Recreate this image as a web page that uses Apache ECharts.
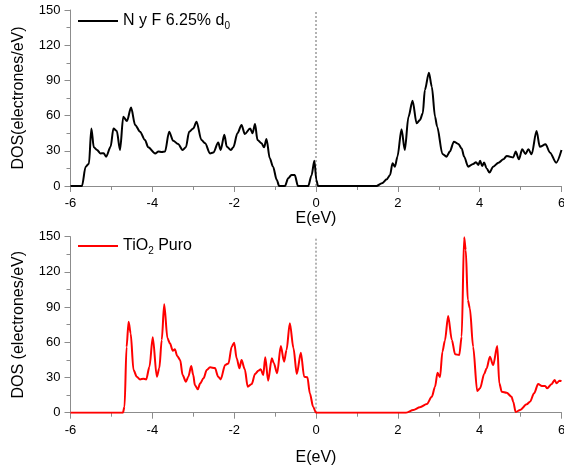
<!DOCTYPE html>
<html>
<head>
<meta charset="utf-8">
<script src="https://cdn.jsdelivr.net/npm/echarts@6/dist/echarts.min.js"></script>
<style>
  html, body { margin: 0; padding: 0; background: #fff; }
  #chart { width: 564px; height: 473px; }
</style>
</head>
<body>
<div id="chart"></div>
<script>
// upper panel: N y F 6.25% d0
const topEnergy = [-6, -5.72, -5.63, -5.55, -5.49, -5.43, -5.35, -5.27, -5.19, -5.13, -5.02, -4.95, -4.87, -4.79, -4.71, -4.62, -4.52, -4.42, -4.30, -4.18, -4.10, -3.93, -3.85, -3.77, -3.69, -3.59, -3.49, -3.37, -3.26, -3.18, -3.10, -3.00, -2.92, -2.80, -2.71, -2.59, -2.51, -2.39, -2.33, -2.24, -2.18, -2.08, -2.02, -1.92, -1.82, -1.74, -1.61, -1.55, -1.49, -1.43, -1.33, -1.27, -1.21, -1.13, -1.05, -0.96, -0.90, -0.76, -0.68, -0.60, -0.52, -0.44, -0.19, -0.11, -0.04, 0.01, 0.05, 1.48, 1.61, 1.73, 1.81, 1.87, 1.93, 1.99, 2.09, 2.17, 2.26, 2.36, 2.46, 2.54, 2.61, 2.66, 2.76, 2.83, 2.91, 2.96, 3.09, 3.19, 3.27, 3.37, 3.48, 3.56, 3.62, 3.72, 3.84, 3.91, 3.97, 4.01, 4.06, 4.11, 4.17, 4.24, 4.33, 4.46, 4.58, 4.66, 4.74, 4.82, 4.88, 4.96, 5.04, 5.12, 5.19, 5.27, 5.39, 5.47, 5.61, 5.72, 5.87, 6.0]
const topDos = [0, 0, 16.5, 19, 49, 33, 30.7, 27.8, 28, 25, 33.5, 49, 47, 30.7, 59, 55.4, 66.8, 52, 46.3, 39.2, 33, 27.8, 29.5, 29, 29.3, 46.3, 38.6, 35.8, 30.7, 33, 46.3, 49, 54.8, 39.2, 36.4, 27.8, 28.5, 37, 30.7, 43.6, 33.5, 30.7, 33, 45, 52, 44.3, 49, 45, 52.8, 39.2, 36.4, 33, 40, 23.6, 16.5, 5.3, 0, 0, 6.5, 9.4, 9.4, 0, 0, 9, 21.5, 5, 0, 0, 2.3, 5.7, 9.4, 19.3, 16.5, 25, 48.3, 30.7, 59, 72.7, 53.4, 56.3, 62, 81.8, 96.6, 84.6, 59, 50.7, 27.3, 25, 29.3, 37.8, 35.8, 32, 25, 16.5, 18.8, 20.2, 17.9, 21.6, 17, 20, 15, 11.4, 16.5, 19.9, 22.7, 25.6, 25, 24.3, 29.3, 22.7, 31.3, 27.3, 31.3, 27, 46.9, 33.5, 35.5, 28.4, 19.9, 30.7]

// lower panel: TiO2 Puro
const bottomEnergy = [-6, -4.72, -4.68, -4.63, -4.58, -4.53, -4.46, -4.38, -4.30, -4.22, -4.15, -4.07, -3.99, -3.89, -3.83, -3.77, -3.71, -3.63, -3.57, -3.50, -3.45, -3.39, -3.32, -3.26, -3.18, -3.12, -3.05, -3.00, -2.96, -2.89, -2.83, -2.75, -2.67, -2.59, -2.47, -2.39, -2.33, -2.22, -2.14, -2.06, -2.00, -1.94, -1.87, -1.82, -1.74, -1.67, -1.57, -1.49, -1.41, -1.35, -1.29, -1.24, -1.17, -1.08, -1.03, -0.95, -0.86, -0.78, -0.72, -0.64, -0.55, -0.47, -0.37, -0.29, -0.21, -0.15, -0.07, 0, 2.20, 2.38, 2.54, 2.71, 2.83, 2.91, 2.97, 3.03, 3.09, 3.15, 3.23, 3.32, 3.40, 3.50, 3.56, 3.62, 3.66, 3.71, 3.76, 3.84, 3.94, 4.01, 4.11, 4.17, 4.25, 4.33, 4.43, 4.48, 4.54, 4.66, 4.78, 4.82, 4.88, 4.99, 5.15, 5.23, 5.33, 5.43, 5.52, 5.60, 5.65, 5.76, 5.83, 5.88, 5.95, 6.0]
const bottomDos = [0, 0, 5, 56, 77.6, 67.7, 36.4, 30.7, 28.4, 29, 28.4, 39.2, 64.3, 30.7, 37.8, 62, 92.4, 63.4, 59.1, 52.8, 54, 48.3, 44.9, 32.1, 26.4, 30.7, 39.8, 32.1, 23.6, 19.9, 25, 29.3, 36.4, 38.7, 38, 30.7, 28.4, 40.7, 42, 56.3, 59.7, 46.4, 37.8, 44.9, 37, 22.2, 24.5, 33, 35.8, 37, 32.1, 47.2, 27.3, 46.4, 42.1, 33.6, 56.8, 43.5, 53.4, 76.2, 54.9, 33, 51.1, 30.7, 30.2, 16.5, 5.1, 0, 0, 2.3, 4.6, 7.4, 13.6, 22.2, 34.1, 30.2, 52, 61.4, 82.4, 62, 49.8, 49.2, 64.8, 149.5, 138.7, 96, 89, 56.3, 18.5, 20.8, 33, 37.8, 47.7, 40.6, 56.8, 25, 17.9, 17, 13.6, 9.4, 0.6, 2.3, 7.1, 9.4, 16.5, 24.5, 22.8, 22.8, 20.8, 24.5, 27.9, 25, 27.3, 27]

const yTicks = [0, 30, 60, 90, 120, 150]
const fermiLevel = 0

const chart = echarts.init(document.getElementById('chart'))
const font = 'Liberation Sans, Arial, sans-serif'
const axisGray = '#8c8c8c'

const zip = (xs, ys) => xs.map((x, i) => [x, ys[i]])
const yMin = yTicks[0]
const yMax = yTicks[yTicks.length - 1]

function xAxisFor(gridIndex, nameGap) {
  return {
    type: 'value', gridIndex: gridIndex, min: -6, max: 6, interval: 2,
    name: 'E(eV)', nameLocation: 'middle', nameGap: nameGap,
    nameTextStyle: { fontFamily: font, fontSize: 16, color: '#000' },
    axisLine: { onZero: false, lineStyle: { color: axisGray, width: 1 } },
    axisTick: { length: 6, lineStyle: { color: axisGray } },
    minorTick: { show: true, splitNumber: 2, length: 4, lineStyle: { color: axisGray } },
    axisLabel: { fontFamily: font, fontSize: 13, color: '#000', margin: 11 },
    splitLine: { show: false }
  }
}

function yAxisFor(gridIndex, name) {
  return {
    type: 'value', gridIndex: gridIndex, min: yMin, max: yMax, interval: 30,
    name: name, nameLocation: 'middle', nameGap: 44,
    nameTextStyle: { fontFamily: font, fontSize: 16, color: '#000' },
    axisLine: { show: true, onZero: false, lineStyle: { color: axisGray, width: 1 } },
    axisTick: { show: true, length: 6, lineStyle: { color: axisGray } },
    minorTick: { show: true, splitNumber: 2, length: 4, lineStyle: { color: axisGray } },
    axisLabel: { fontFamily: font, fontSize: 13, color: '#000', margin: 10 },
    splitLine: { show: false }
  }
}

// dotted line at the Fermi level, drawn as its own line series
function fermiSeries(i) {
  return {
    name: 'fermi' + i, type: 'line', xAxisIndex: i, yAxisIndex: i, silent: true,
    data: [[fermiLevel, yMin], [fermiLevel, yMax]], symbol: 'none', z: 1,
    lineStyle: { type: [2, 2], color: '#9a9a9a', width: 1.5 }
  }
}

const legendText = {
  fontFamily: font, fontSize: 16, color: '#000',
  rich: { sub: { fontFamily: font, fontSize: 10, color: '#000', padding: [10, 0, 0, 0] } }
}

chart.setOption({
  animation: false,
  grid: [
    { left: 70.5, right: 2.5, top: 10, height: 176, outerBoundsMode: 'none', containLabel: false },
    { left: 70.5, right: 2.5, top: 236.7, height: 176, outerBoundsMode: 'none', containLabel: false }
  ],
  legend: [
    {
      data: [{ name: 'NyF', icon: 'rect' }], left: 73, top: 8, itemWidth: 40, itemHeight: 2,
      textStyle: legendText, formatter: () => 'N y F 6.25% d{sub|0}'
    },
    {
      data: [{ name: 'TiO2', icon: 'rect' }], left: 73, top: 233, itemWidth: 40, itemHeight: 2,
      textStyle: legendText, formatter: () => 'TiO{sub|2} Puro'
    }
  ],
  xAxis: [xAxisFor(0, 20), xAxisFor(1, 37)],
  yAxis: [yAxisFor(0, 'DOS(electrones/eV)'), yAxisFor(1, 'DOS (electrones/eV)')],
  series: [
    fermiSeries(0),
    fermiSeries(1),
    {
      name: 'NyF', type: 'line', xAxisIndex: 0, yAxisIndex: 0, z: 3,
      data: zip(topEnergy, topDos), symbol: 'none', smooth: 0.3, smoothMonotone: 'x',
      lineStyle: { color: '#000', width: 2 }, itemStyle: { color: '#000' }
    },
    {
      name: 'TiO2', type: 'line', xAxisIndex: 1, yAxisIndex: 1, z: 3,
      data: zip(bottomEnergy, bottomDos), symbol: 'none', smooth: 0.3, smoothMonotone: 'x',
      lineStyle: { color: '#ff0000', width: 2 }, itemStyle: { color: '#ff0000' }
    }
  ]
})
</script>
</body>
</html>
